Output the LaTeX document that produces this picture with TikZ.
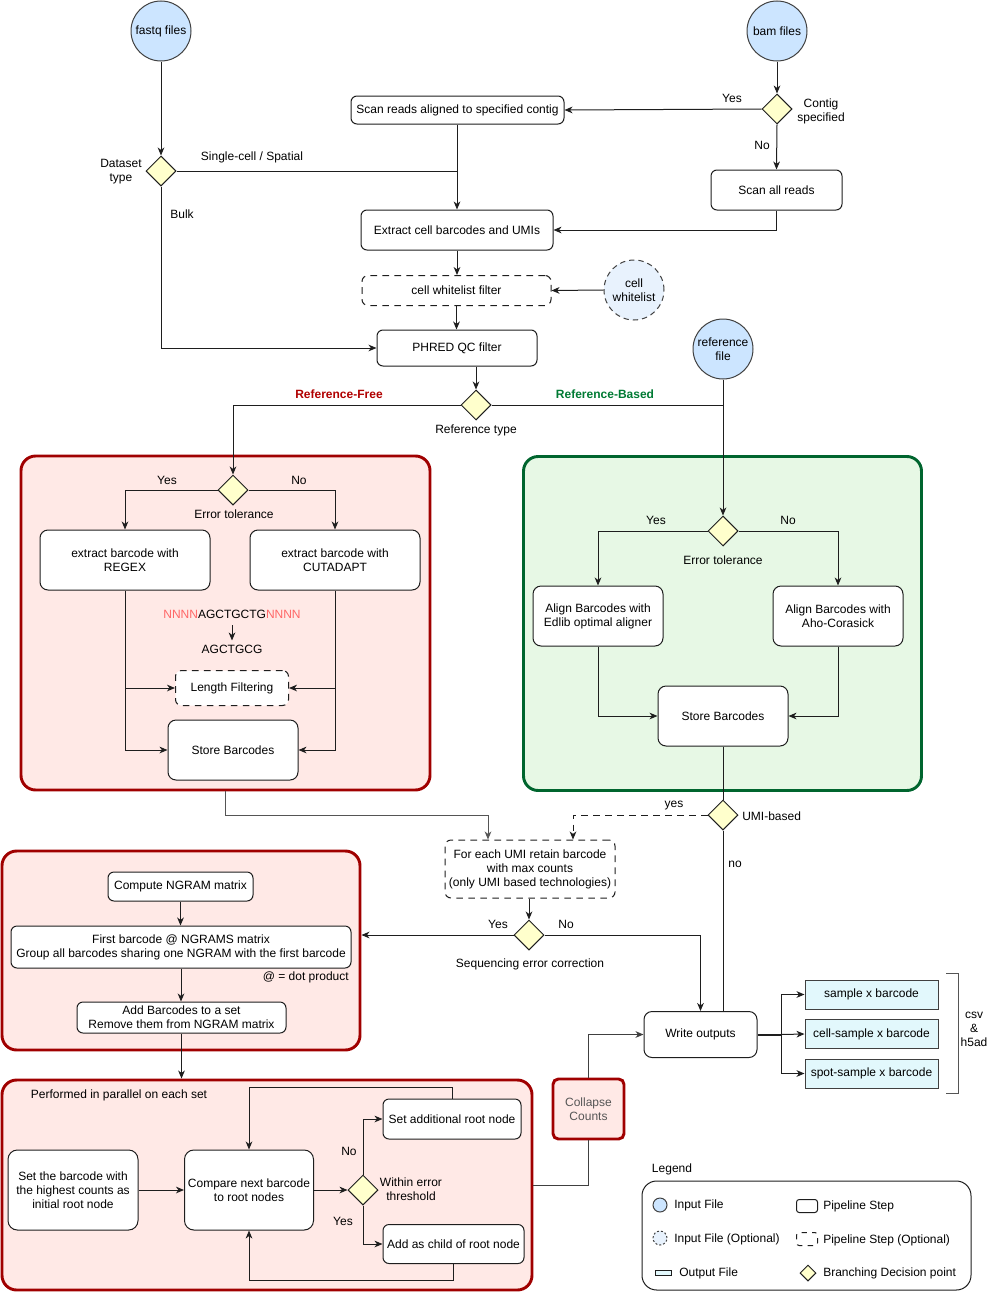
\documentclass[tikz,border=0pt]{standalone}
\usepackage{fontspec}
\setmainfont{Liberation Sans}
\usetikzlibrary{shapes.geometric,arrows.meta,calc}
\definecolor{ln}{HTML}{1E1E1E}
\definecolor{gl}{HTML}{555555}
\definecolor{infill}{HTML}{CCE5FF}
\definecolor{optfill}{HTML}{E8F2FD}
\definecolor{decfill}{HTML}{FFFFCC}
\definecolor{redfill}{HTML}{FFE9E6}
\definecolor{redline}{HTML}{A00000}
\definecolor{greenfill}{HTML}{E7F8E5}
\definecolor{greenline}{HTML}{00652E}
\definecolor{outfill}{HTML}{E2F8FC}
\definecolor{nred}{HTML}{FF6666}
\definecolor{reffree}{HTML}{B00000}
\definecolor{refbased}{HTML}{007A33}
\begin{document}
\begin{tikzpicture}[x=0.75pt,y=-0.75pt,
  every node/.style={font=\fontsize{9}{10.5}\selectfont, inner sep=0pt, align=center},
  wh/.style 2 args={minimum width=#1*0.75pt, minimum height=#2*0.75pt},
  stepbox/.style={draw=ln, line width=0.75pt, fill=white, rounded corners=4.5pt},
  optbox/.style={stepbox, dashed, dash pattern=on 5pt off 4pt},
  dec/.style={diamond, draw=ln, line width=0.75pt, fill=decfill, shape aspect=1, minimum width=30*0.75pt, minimum height=30*0.75pt},
  infile/.style={circle, draw=ln!85, line width=0.75pt, fill=infill, minimum size=60*0.75pt},
  optin/.style={infile, fill=optfill, dashed, dash pattern=on 4pt off 3pt},
  outbox/.style={draw=ln!85, line width=0.75pt, fill=outfill},
  panelred/.style={draw=redline, line width=2.2pt, fill=redfill, rounded corners=11pt},
  panelgreen/.style={draw=greenline, line width=2.2pt, fill=greenfill, rounded corners=11pt},
  con/.style={draw=ln, line width=0.75pt},
  arr/.style={con, -{Stealth[length=6pt,width=5pt,inset=1.8pt]}},
  lbl/.style={}
]
\useasboundingbox (0,0) rectangle (1001,1292);

% ---------- panels ----------
\node[panelred, wh={409}{334}] (p1) at (225.5,623) {};
\node[panelgreen, wh={398}{334}] (pg) at (722.5,623.5) {};
\node[panelred, wh={358}{199}] (p2) at (181,950.5) {};
\node[panelred, wh={530}{210}] (p3) at (267,1185) {};

% ---------- top ----------
\node[infile] (fastq) at (161,31) {fastq files};
\node[infile] (bam) at (777,31) {bam files};
\node[stepbox, wh={213}{28}] (scan) at (457.5,110) {Scan reads aligned to specified contig};
\node[dec] (contig) at (777,109) {};
\node[lbl] at (821,111) {Contig\\specified};
\node[stepbox, wh={131}{40}] (scanall) at (776.5,190) {Scan all reads};
\node[dec] (dtype) at (161,171) {};
\node[lbl] at (121,172) {Dataset\\type};
\node[stepbox, wh={192}{40}] (extract) at (457,230) {Extract cell barcodes and UMIs};
\node[optbox, wh={189}{30}] (wlf) at (456.5,290.5) {cell whitelist filter};
\node[optin] (wl) at (634,290) {cell\\whitelist};
\node[stepbox, wh={160}{36}] (phred) at (457,348) {PHRED QC filter};
\node[dec] (reftype) at (476,405) {};
\node[lbl] at (476,430) {Reference type};
\node[infile] (reffile) at (723,349) {reference\\file};

\draw[arr] (fastq.south) -- (dtype.north);
\draw[arr] (bam.south) -- (contig.north);
\draw[arr] (contig.west) -- (scan.east);
\node[lbl] at (732,98) {Yes};
\draw[arr] (contig.south) -- (scanall.north);
\node[lbl] at (762,145) {No};
\draw[arr] (scanall.south) |- (extract.east);
\draw[con] (scan.south) -- (scan.south |- dtype.east);
\draw[arr] (dtype.east) -| (extract.north);
\node[lbl] at (252,157) {Single-cell / Spatial};
\draw[arr] (dtype.south) |- (phred.west);
\node[lbl] at (182,214) {Bulk};
\draw[arr] (extract.south) -- (extract.south |- wlf.north);
\draw[arr] (wl.west) -- (wlf.east);
\draw[arr] (wlf.south) -- (wlf.south |- phred.north);
\draw[arr] (reftype.north |- phred.south) -- (reftype.north);

% ---------- reference-free panel ----------
\node[dec] (et1) at (233,490) {};
\node[lbl] at (234,514) {Error tolerance};
\node[lbl] at (167,480) {Yes};
\node[lbl] at (299,480) {No};
\node[stepbox, wh={170}{60}, rounded corners=6pt] (regex) at (125,560) {extract barcode with\\REGEX};
\node[stepbox, wh={170}{60}, rounded corners=6pt] (cut) at (335,560) {extract barcode with\\CUTADAPT};
\node[lbl] (seq) at (232,614) {\textcolor{nred}{NNNN}AGCTGCTG\textcolor{nred}{NNNN}};
\node[lbl] (seq2) at (232,649) {AGCTGCG};
\node[optbox, wh={113}{35}] (lenf) at (232,688) {Length Filtering};
\node[stepbox, wh={130}{60}, rounded corners=6pt] (store1) at (233,750) {Store Barcodes};

\draw[arr] (reftype.west) -| (et1.north);
\node[lbl, text=reffree, font=\fontsize{9}{10.5}\selectfont\bfseries] at (339,394) {Reference-Free};
\draw[arr] (et1.west) -| (regex.north);
\draw[arr] (et1.east) -| (cut.north);
\draw[arr, shorten <=5pt, shorten >=3pt] (seq.south) -- (seq2.north);
\draw[arr] (regex.south) |- (store1.west);
\draw[arr] (regex.south |- lenf.west) -- (lenf.west);
\draw[arr] (cut.south) |- (store1.east);
\draw[arr] (cut.south |- lenf.east) -- (lenf.east);

% ---------- reference-based panel ----------
\node[dec] (et2) at (723,531) {};
\node[lbl] at (723,560) {Error tolerance};
\node[lbl] at (656,520) {Yes};
\node[lbl] at (788,520) {No};
\node[stepbox, wh={130}{60}, rounded corners=6pt] (edlib) at (598,616) {Align Barcodes with\\Edlib optimal aligner};
\node[stepbox, wh={130}{60}, rounded corners=6pt] (aho) at (838,616) {Align Barcodes with\\Aho-Corasick};
\node[stepbox, wh={130}{60}, rounded corners=6pt] (store2) at (723,716) {Store Barcodes};

\draw[arr] (reffile.south) -- (et2.north);
\draw[con] (reftype.east) -- (reffile.south |- reftype.east);
\node[lbl, text=refbased, font=\fontsize{9}{10.5}\selectfont\bfseries] at (605,394) {Reference-Based};
\draw[arr] (et2.west) -| (edlib.north);
\draw[arr] (et2.east) -| (aho.north);
\draw[arr] (edlib.south) |- (store2.west);
\draw[arr] (aho.south) |- (store2.east);

% ---------- UMI ----------
\node[dec] (umi) at (723,815) {};
\node[lbl, anchor=west] at (742,816) {UMI-based};
\node[optbox, wh={170}{58}] (foreach) at (530,869) {For each UMI retain barcode\\with max counts\\(only UMI based technologies)};
\node[dec] (sec) at (529,935) {};
\node[lbl] at (530,964) {Sequencing error correction};
\node[lbl] at (498,924) {Yes};
\node[lbl] at (566,924) {No};

\draw[con] (store2.south) -- (umi.north);
\draw[arr, draw=gl] (p1.south) -- ++(0,24) -| ([xshift=-42*0.75pt]foreach.north);
\draw[arr, dashed, dash pattern=on 5pt off 4pt] (umi.west) -| ([xshift=43*0.75pt]foreach.north);
\node[lbl] at (674,806) {yes};
\draw[arr] (foreach.south -| sec.north) -- (sec.north);
\draw[arr] (sec.west) -- (sec.west -| p2.east);
\node[lbl] at (735,864) {no};

% ---------- NGRAM panel ----------
\node[stepbox, wh={145}{29}] (ngram) at (180.5,886.5) {Compute NGRAM matrix};
\node[stepbox, wh={340}{42}] (first) at (181,947) {First barcode @ NGRAMS matrix\\Group all barcodes sharing one NGRAM with the first barcode};
\node[lbl, anchor=east] at (349,977) {@ = dot product};
\node[stepbox, wh={209}{31}] (addb) at (181.5,1017.5) {Add Barcodes to a set\\Remove them from NGRAM matrix};
\draw[arr] (ngram.south) -- (ngram.south |- first.north);
\draw[arr] (first.south) -- (first.south |- addb.north);
\draw[arr] (addb.south) -- (addb.south |- p3.north);

% ---------- parallel panel ----------
\node[lbl] at (119,1095) {Performed in parallel on each set};
\node[stepbox, wh={130}{80}, rounded corners=7pt] (setb) at (73,1190) {Set the barcode with\\the highest counts as\\initial root node};
\node[stepbox, wh={129}{80}, rounded corners=7pt] (comp) at (249,1190) {Compare next barcode\\to root nodes};
\node[dec] (wet) at (363,1190) {};
\node[lbl] at (411,1189) {Within error\\threshold};
\node[lbl] at (349,1151) {No};
\node[lbl] at (343,1221) {Yes};
\node[stepbox, wh={138}{40}] (setadd) at (452,1119) {Set additional root node};
\node[stepbox, wh={141}{39}] (addchild) at (453.5,1244) {Add as child of root node};
\draw[arr] (setb.east) -- (comp.west);
\draw[arr] (comp.east) -- (wet.west);
\draw[arr] (wet.north) |- (setadd.west);
\draw[arr] (wet.south) |- (addchild.west);
\draw[arr] (setadd.north) -- ++(0,-11) -| (comp.north);
\draw[arr] (addchild.south) -- ++(0,16) -| (comp.south);

% ---------- outputs ----------
\node[draw=redline, line width=2.2pt, fill=redfill, rounded corners=4pt, wh={71}{60}, text=ln!75] (collapse) at (588.5,1109) {Collapse\\Counts};
\node[stepbox, wh={113}{46}, rounded corners=6pt] (write) at (700.5,1034.5) {Write outputs};
\node[outbox, wh={133}{29}] (o1) at (871.5,994.5) {sample x barcode};
\node[outbox, wh={133}{29}] (o2) at (871.5,1034) {cell-sample x barcode};
\node[outbox, wh={133}{29}] (o3) at (871.5,1073.5) {spot-sample x barcode};
\node[lbl] (csv) at (974,1029) {csv\\\&\\h5ad};

\draw[arr] (sec.east) -| (write.north);
\draw[con] (umi.south) -- (umi.south |- write.north);
\draw[con, draw=ln!85] (p3.east) -| (collapse.south);
\draw[arr, draw=ln!85] (collapse.north) |- (write.west);
\draw[con, line width=1.5pt] (write.east) -- ++(24,0) coordinate (split);
\draw[arr] (split) |- (o1.west);
\draw[arr] (split) -- (o2.west);
\draw[arr] (split) |- (o3.west);
\draw[con, draw=gl] (csv) ++(-28,-56) -- ++(12,0) -- ++(0,120) -- ++(-12,0);

% ---------- legend ----------
\node[lbl] at (672,1169) {Legend};
\node[draw=ln, line width=0.75pt, rounded corners=11pt, wh={329}{109}] (legend) at (806.5,1235.5) {};
\node[circle, draw=ln!85, fill=infill, line width=0.75pt, minimum size=14*0.75pt] (li1) at (660,1205) {};
\node[lbl, anchor=west] at (674,1205.5) {Input File};
\node[circle, draw=ln!85, fill=optfill, line width=0.75pt, dashed, dash pattern=on 1.5pt off 1.5pt, minimum size=14*0.75pt] (li2) at (660,1238) {};
\node[lbl, anchor=west] at (674,1239) {Input File (Optional)};
\node[draw=ln, line width=0.75pt, fill=outfill, wh={16}{5}] (li3) at (663,1273) {};
\node[lbl, anchor=west] at (679,1273) {Output File};
\node[draw=ln, line width=0.75pt, rounded corners=2pt, wh={21}{13}] (li4) at (807,1206) {};
\node[lbl, anchor=west] at (823,1206) {Pipeline Step};
\node[draw=ln, line width=0.75pt, dashed, dash pattern=on 4pt off 4pt, dash phase=2pt, rounded corners=2pt, wh={21}{13}] (li5) at (807,1239) {};
\node[lbl, anchor=west] at (823,1240) {Pipeline Step (Optional)};
\node[diamond, draw=ln, fill=decfill, line width=0.75pt, shape aspect=1, minimum width=16*0.75pt, minimum height=16*0.75pt] (li6) at (808,1273) {};
\node[lbl, anchor=west] at (823,1273) {Branching Decision point};
\end{tikzpicture}
\end{document}
